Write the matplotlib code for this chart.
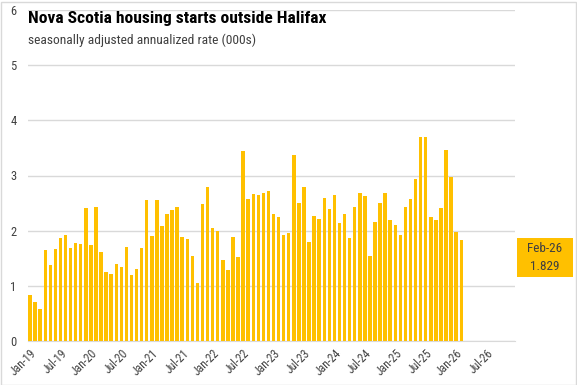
import matplotlib
matplotlib.use("Agg")
import matplotlib.pyplot as plt
from matplotlib.patches import Rectangle

# ---- data ----
start_year = 2019
n_axis_months = 96  # Jan-19 .. Dec-26
values = [
    0.83, 0.70, 0.58, 1.65, 1.37, 1.66, 1.86, 1.93, 1.68, 1.77, 1.75, 2.41,
    1.74, 2.42, 1.61, 1.25, 1.21, 1.39, 1.35, 1.70, 1.19, 1.30, 1.68, 2.55,
    1.90, 2.55, 2.08, 2.30, 2.37, 2.42, 1.88, 1.84, 1.54, 1.05, 2.48, 2.80,
    2.04, 1.99, 1.46, 1.28, 1.88, 1.52, 3.45, 2.57, 2.66, 2.64, 2.68, 2.71,
    2.30, 2.24, 1.92, 1.95, 3.38, 2.50, 2.80, 1.79, 2.26, 2.21, 2.59, 2.40,
    2.64, 2.13, 2.31, 1.86, 2.42, 2.68, 2.62, 1.54, 2.15, 2.51, 2.68, 2.19,
    2.10, 1.93, 2.42, 2.57, 2.93, 3.69, 3.69, 2.24, 2.20, 2.41, 3.47, 2.98,
    1.97, 1.829,
]
month_names = ["Jan", "Feb", "Mar", "Apr", "May", "Jun",
               "Jul", "Aug", "Sep", "Oct", "Nov", "Dec"]
tick_positions = list(range(0, n_axis_months, 6))
tick_labels = [f"{month_names[i % 12]}-{(start_year + i // 12) % 100:02d}" for i in tick_positions]
last_label = "Feb-26"
last_value_text = "1.829"
y_ticks = [0, 1, 2, 3, 4, 5, 6]

title = "Nova Scotia housing starts outside Halifax"
subtitle = "seasonally adjusted annualized rate (000s)"

# ---- style ----
W, H = 577, 385
gold = "#FFC000"
txt = "#404040"
grid = "#D9D9D9"
font = ["Liberation Sans Narrow", "Roboto Condensed", "Liberation Sans", "DejaVu Sans"]
plt.rcParams["font.family"] = font

fig = plt.figure(figsize=(W / 100, H / 100), dpi=100)
fig.patch.set_facecolor("white")
# chart border
fig.add_artist(Rectangle((0.5 / W, 0.5 / H), (W - 2) / W, (H - 2) / H,
                         transform=fig.transFigure, fill=False,
                         edgecolor="#D9D9D9", linewidth=1))

left, right, top, bottom = 27.5, 514.5, 10, 341
ax = fig.add_axes([left / W, (H - bottom) / H, (right - left) / W, (bottom - top) / H])
x = list(range(len(values)))
ax.bar(x, values, width=0.68, color=gold, zorder=3)
ax.set_xlim(-0.5, n_axis_months - 0.5)
ax.set_ylim(0, 6)
ax.set_yticks(y_ticks)
ax.set_yticklabels([str(v) for v in y_ticks], color=txt, fontsize=9)
ax.set_xticks(tick_positions)
ax.set_xticklabels(tick_labels, rotation=45, ha="right", va="top",
                   rotation_mode="anchor", color=txt, fontsize=8.5)
ax.tick_params(axis="both", length=0)
ax.tick_params(axis="y", pad=8)
ax.tick_params(axis="x", pad=4)
ax.grid(axis="y", color=grid, linewidth=1, zorder=0)
for s in ["left", "right", "top"]:
    ax.spines[s].set_visible(False)
ax.spines["bottom"].set_color(grid)
ax.set_facecolor("none")

fig.text(28 / W, 1 - 18 / H, title, fontsize=12.6, fontweight="bold",
         color="black", ha="left", va="center")
fig.text(28 / W, 1 - 40 / H, subtitle, fontsize=9.7, color=txt,
         ha="left", va="center")

# value label box
bx0, bx1, by0, by1 = 517, 573, 238, 277
fig.add_artist(Rectangle((bx0 / W, 1 - by1 / H), (bx1 - bx0) / W, (by1 - by0) / H,
                         transform=fig.transFigure, facecolor=gold, edgecolor="none"))
fig.text((bx0 + bx1) / 2 / W, 1 - 249 / H, last_label, fontsize=9.5, color=txt,
         ha="center", va="center")
fig.text((bx0 + bx1) / 2 / W, 1 - 267 / H, last_value_text, fontsize=9.5, color=txt,
         ha="center", va="center")

fig.savefig("out.png", dpi=100)
